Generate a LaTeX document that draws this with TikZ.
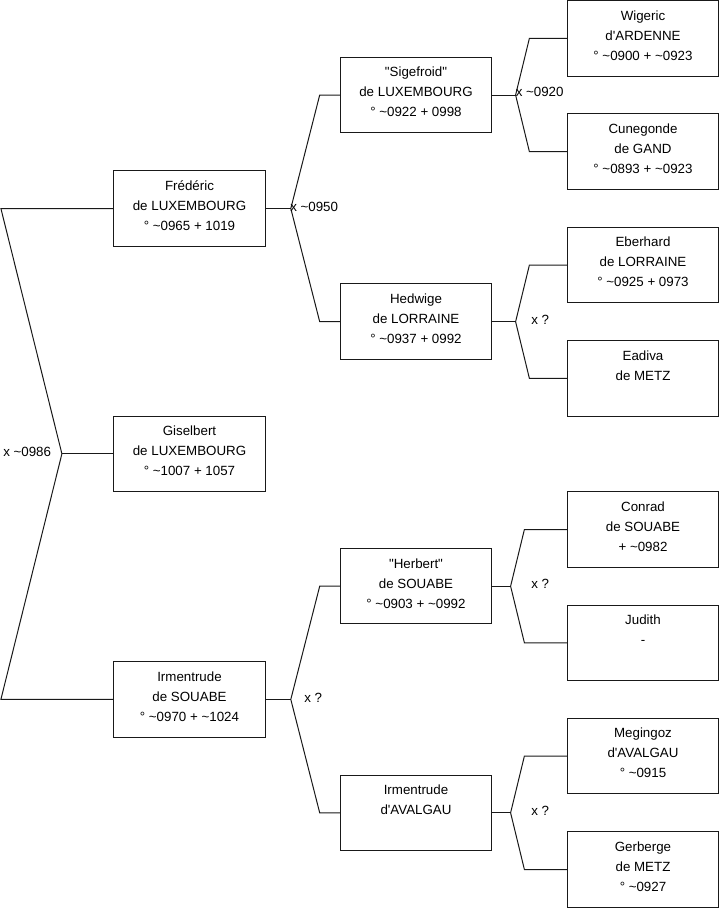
\documentclass[tikz,border=0pt]{standalone}
\usepackage{fontspec}
\newfontfamily\drawiofont{Liberation Sans}
\usetikzlibrary{calc}

\begin{document}
\begin{tikzpicture}[
  x=0.75pt, y=-0.75pt,
  every node/.style={font=\drawiofont\fontsize{10}{15}\selectfont},
  person/.style={rectangle, draw=black!90, line width=0.75pt, inner sep=0pt, outer sep=0pt,
                 minimum width=113.4pt, minimum height=56.6pt, align=center,
                 execute at begin node=\strut, execute at end node=\strut},
  link/.style={draw=black!90, line width=0.75pt},
  wed/.style={anchor=west, inner sep=0pt},
]
  \useasboundingbox (0,0) rectangle (719,908);

  % generation 1
  \node[person] (frederic)  at (189.5,208.5) {Frédéric\\de LUXEMBOURG\\° \textasciitilde0965 + 1019};
  \node[person] (giselbert) at (189.5,453.8) {Giselbert\\de LUXEMBOURG\\° \textasciitilde1007 + 1057};
  \node[person] (irmSouabe) at (189.5,699.4) {Irmentrude\\de SOUABE\\° \textasciitilde0970 + \textasciitilde1024};

  % generation 2
  \node[person] (sigefroid)  at (416,95)    {"Sigefroid"\\de LUXEMBOURG\\° \textasciitilde0922 + 0998};
  \node[person] (hedwige)    at (416,321.7) {Hedwige\\de LORRAINE\\° \textasciitilde0937 + 0992};
  \node[person] (herbert)    at (416,586.2) {"Herbert"\\de SOUABE\\° \textasciitilde0903 + \textasciitilde0992};
  \node[person] (irmAvalgau) at (416,812.8) {Irmentrude\\d'AVALGAU\\};

  % generation 3
  \node[person] (wigeric)   at (643,38.3)  {Wigeric\\d'ARDENNE\\° \textasciitilde0900 + \textasciitilde0923};
  \node[person] (cunegonde) at (643,151.7) {Cunegonde\\de GAND\\° \textasciitilde0893 + \textasciitilde0923};
  \node[person] (eberhard)  at (643,265)   {Eberhard\\de LORRAINE\\° \textasciitilde0925 + 0973};
  \node[person] (eadiva)    at (643,378.4) {Eadiva\\de METZ\\};
  \node[person] (conrad)    at (643,529.5) {Conrad\\de SOUABE\\+ \textasciitilde0982};
  \node[person] (judith)    at (643,642.8) {Judith\\-\\};
  \node[person] (megingoz)  at (643,756)   {Megingoz\\d'AVALGAU\\° \textasciitilde0915};
  \node[person] (gerberge)  at (643,869.5) {Gerberge\\de METZ\\° \textasciitilde0927};

  % couples
  \draw[link] (giselbert.west) -- ++(-52,0) coordinate (jgiselbert);
  \draw[link] (frederic.west) -- ++(-113,0) -- (jgiselbert)
    -- ($(irmSouabe.west)+(-113,0)$) -- (irmSouabe.west);
  \foreach \kid/\dad/\mum/\st/\pr in {
    frederic/sigefroid/hedwige/25.7/20.7,
    irmSouabe/herbert/irmAvalgau/25.7/20.7,
    sigefroid/wigeric/cunegonde/24/38,
    hedwige/eberhard/eadiva/24/38,
    herbert/conrad/judith/19/43,
    irmAvalgau/megingoz/gerberge/19/43}{
    \draw[link] (\kid.east) -- ++(\st,0) coordinate (j\kid);
    \draw[link] (\dad.west) -- ++(-\pr,0) -- (j\kid)
      -- ($(\mum.west)+(-\pr,0)$) -- (\mum.west);
  }

  % marriages
  \node[wed] (wGiselbert)  at (3,451.7)     {x \textasciitilde0986};
  \node[wed] (wFrederic)   at (290,206.7)   {x \textasciitilde0950};
  \node[wed] (wSigefroid)  at (515.5,92.3)  {x \textasciitilde0920};
  \node[wed] (wHedwige)    at (531,320)     {x ?};
  \node[wed] (wIrmSouabe)  at (304,697.7)   {x ?};
  \node[wed] (wHerbert)    at (531,584)     {x ?};
  \node[wed] (wIrmAvalgau) at (531,810.7)   {x ?};
\end{tikzpicture}
\end{document}
